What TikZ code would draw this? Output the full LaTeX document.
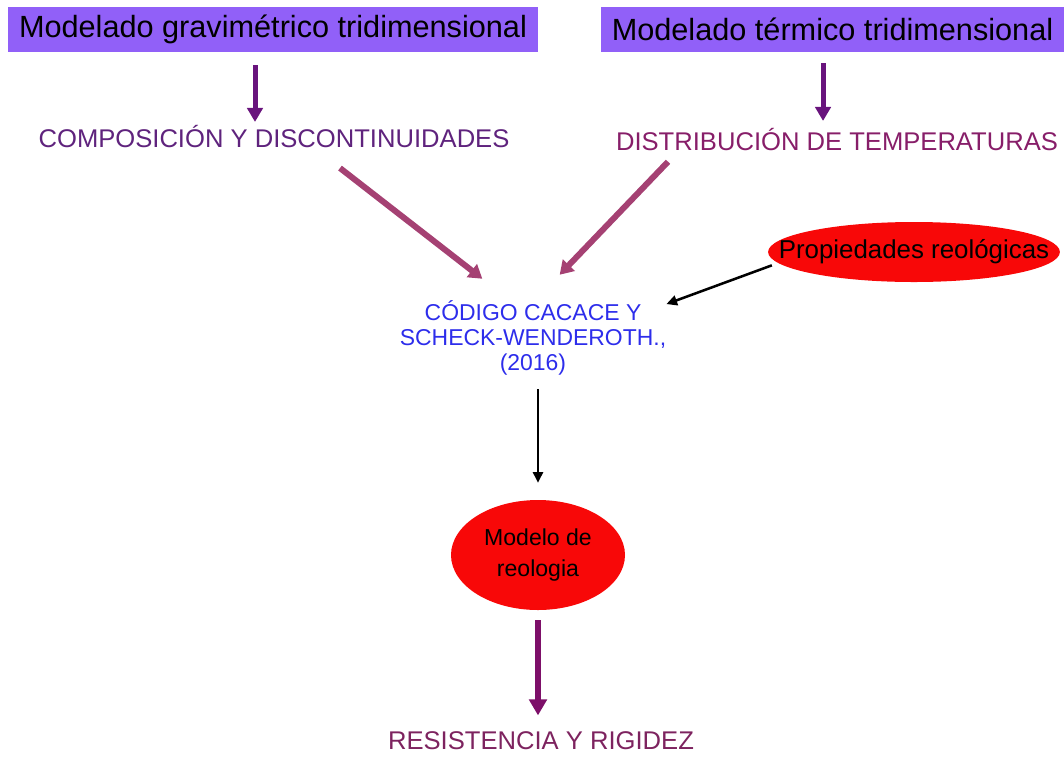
\documentclass[tikz,border=0pt]{standalone}
\usepackage{fontspec}
\setmainfont{Liberation Sans}
\usetikzlibrary{positioning, arrows.meta, shapes.geometric, calc}

\definecolor{headviolet}{RGB}{145,96,248}
\definecolor{toparrow}{RGB}{105,20,125}
\definecolor{comptext}{RGB}{95,35,125}
\definecolor{disttext}{RGB}{135,30,105}
\definecolor{diagarrow}{RGB}{165,65,115}
\definecolor{codeblue}{RGB}{45,45,235}
\definecolor{ellred}{RGB}{248,8,8}
\definecolor{botarrow}{RGB}{125,15,105}
\definecolor{resisttext}{RGB}{125,35,95}

\begin{document}
\begin{tikzpicture}[
  x=0.75pt, y=-0.75pt,
  header/.style={rectangle, fill=headviolet, inner sep=0pt, minimum height=33.75pt,
    font=\fontsize{23pt}{27pt}\selectfont, text=black},
  caps/.style={inner sep=0pt, text height=0.72em, text depth=0pt,
    font=\fontsize{19.2pt}{22pt}\selectfont},
  redell/.style={ellipse, fill=ellred, inner sep=0pt, align=center, text=black},
  fatarr/.style={line width=3.75pt, color=toparrow, -{Triangle[width=11.5pt, length=10.5pt]}},
  diagarr/.style={line width=4.5pt, color=diagarrow, -{Triangle[width=12pt, length=10pt]}},
  thinarr/.style={line width=1.9pt, -{Triangle[width=7.5pt, length=8pt]}},
]
\useasboundingbox (0,0) rectangle (1064,758);

% ---- model inputs ----
\node[header, minimum width=397.5pt] (grav) at (273,29.5) {Modelado gravimétrico tridimensional};
\node[header, minimum width=347.25pt] (term) at (832.5,29.5) {Modelado térmico tridimensional};

\node[caps, text=comptext] (comp) at (274,143) {COMPOSICIÓN Y DISCONTINUIDADES};
\node[caps, text=disttext] (dist) at (837,146) {DISTRIBUCIÓN DE TEMPERATURAS};

\draw[fatarr, shorten <=9.75pt, shorten >=12pt] ([xshift=-13.5pt]grav.south) -- ([xshift=-13.5pt]grav.south |- comp.north);
\draw[fatarr, shorten <=8.25pt, shorten >=15pt] ([xshift=-7.1pt]term.south) -- ([xshift=-7.1pt]term.south |- dist.north);

% ---- code ----
\node[align=center, inner sep=0pt, text=codeblue, font=\fontsize{17.2pt}{19pt}\selectfont] (codigo) at (533,338)
  {CÓDIGO CACACE Y\\SCHECK-WENDEROTH.,\\(2016)};
\node[redell, inner xsep=-24pt, minimum width=217.5pt, minimum height=45pt, font=\fontsize{19.4pt}{22pt}\selectfont] (props) at (914,252)
  {Propiedades reológicas};

\draw[diagarr] ([xshift=49.5pt, yshift=-15pt]comp.south) -- ([xshift=-38pt, yshift=16pt]codigo.north);
\draw[diagarr] ([xshift=-126.75pt, yshift=-8pt]dist.south) -- ([xshift=20pt, yshift=19pt]codigo.north);
\draw[thinarr] ([xshift=3pt, yshift=-10pt]props.west) -- ([yshift=-3pt]codigo.north east);

% ---- rheology ----
\node[redell, minimum width=130.5pt, minimum height=82.5pt, font=\fontsize{17.3pt}{23pt}\selectfont] (modelo) at (538,555)
  {Modelo de\\reologia};
\draw[thinarr, shorten <=10pt, shorten >=12.75pt] (modelo.north |- codigo.south) -- (modelo.north);

\node[caps, text=resisttext] (resist) at (541,745) {RESISTENCIA Y RIGIDEZ};
\draw[fatarr, color=botarrow, line width=4.5pt, -{Triangle[width=13pt, length=12pt]}, shorten <=7.5pt, shorten >=18.4pt]
  (modelo.south) -- (modelo.south |- resist.north);

\end{tikzpicture}
\end{document}
